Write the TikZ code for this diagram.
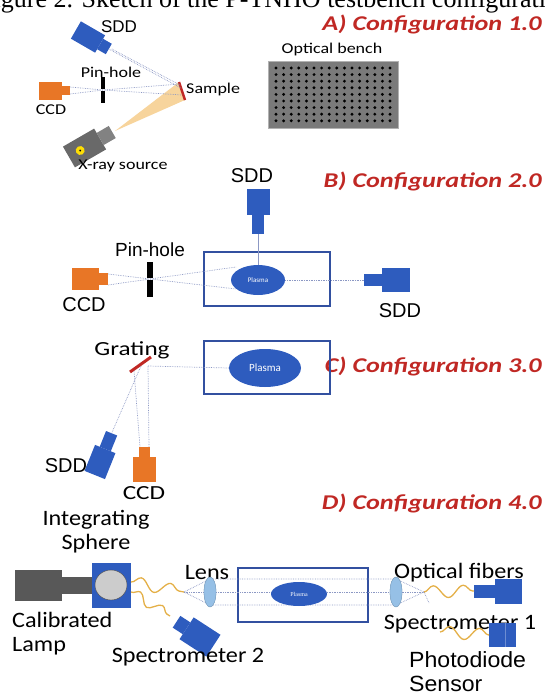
\documentclass[tikz,border=0pt]{standalone}
\usepackage{fontspec}
\setmainfont{Carlito}
\newfontfamily\arialfont{Liberation Sans}
\newfontfamily\capfont{Liberation Serif}
\usepackage{tikz}
\usetikzlibrary{shapes.geometric}
\usetikzlibrary{decorations.pathmorphing}

\definecolor{cfgred}{RGB}{192,40,36}
\definecolor{sddblue}{RGB}{46,92,190}
\definecolor{boxblue}{RGB}{50,80,160}
\definecolor{ccdorange}{RGB}{232,118,38}
\definecolor{raygray}{RGB}{140,152,196}
\definecolor{fibergold}{RGB}{228,176,72}
\definecolor{lensblue}{RGB}{150,192,230}
\definecolor{lampgray}{RGB}{88,88,88}
\definecolor{benchgray}{RGB}{122,122,122}
\definecolor{beam}{RGB}{247,212,156}

\begin{document}
\begin{tikzpicture}[x=1pt,y=-1pt,
    cfg/.style={font=\fontsize{21}{24}\bfseries\itshape\selectfont, text=cfgred, anchor=east, inner sep=0pt, xscale=1.25},
    lbl/.style={font=\fontsize{15}{18}\selectfont, inner sep=0pt, xscale=1.2},
    lblbig/.style={font=\fontsize{22}{24}\selectfont, inner sep=0pt, xscale=1.1},
    albl/.style={font=\fontsize{20}{24}\arialfont\selectfont, inner sep=0pt},
    sdd/.style={fill=sddblue},
    ccd/.style={fill=ccdorange},
    ray/.style={raygray, densely dotted, line width=0.7pt},
    chamber/.style={draw=boxblue, line width=1.4pt},
    plasma/.style={ellipse, fill=sddblue, text=white, inner sep=0pt},
    fiber/.style={fibergold, line width=1.3pt, decorate, decoration={snake, amplitude=6pt, segment length=30pt}},
    lens/.style={ellipse, fill=lensblue, draw=lensblue!80!black, line width=0.3pt, minimum width=12pt, minimum height=30pt, inner sep=0pt}]
\path[use as bounding box, clip] (0,0) rectangle (545,696);

% caption, cut at the top edge
\node[font=\fontsize{26}{28}\capfont\selectfont, anchor=base west, inner sep=0pt] (caption) at (-21,7) {Figure 2. Sketch of the P-TNHO testbench configurations};

%%% A) Configuration 1.0
\node[cfg] (titleA) at (542,24) {A) Configuration 1.0};
\fill[beam] (115,131) -- (179,82) -- (185,100) -- cycle;
\begin{scope}[shift={(88,37)},rotate=-30]
  \fill[sdd] (-14,-10) rectangle (14,10);
  \fill[sdd] (14,-6) rectangle (24,6);
  \coordinate (sddA tip) at (24,0);
\end{scope}
\node[albl, font=\fontsize{17}{20}\arialfont\selectfont] (sddA) at (119,27) {SDD};
\fill[ccd] (39,82) rectangle (62,100);
\fill[ccd] (62,86) rectangle (70,95);
\coordinate (ccdA top) at (70,87);
\coordinate (ccdA bot) at (70,94);
\fill[black] (101,77) rectangle (105,89);
\fill[black] (101,91) rectangle (105,103);
\coordinate (pinA) at (103,90);
\node[lbl] (pinholeA) at (111,72) {Pin-hole};
\node[lbl] (ccdAlbl) at (51,110) {CCD};
\draw[cfgred, line width=2.5pt] (179,82) -- (185,100);
\coordinate (sampleA) at (181,88);
\node[lbl, anchor=west] (sample) at (186,89) {Sample};
\draw[ray] (sddA tip) -- (sampleA);
\draw[ray] ([xshift=3]sddA tip) -- (180,85);
\draw[ray] (ccdA top) -- (pinA) -- (182,95);
\draw[ray] (ccdA bot) -- (pinA) -- (180,84);
\begin{scope}[shift={(88,146)},rotate=30]
  \fill[lampgray!90] (-22,-12) rectangle (14,12);
  \fill[lampgray!75] (14,-7) rectangle (28,7);
  \fill[yellow!80!orange] (-9,0) circle (4.5);
  \fill[black] (-9,0) circle (1.1);
\end{scope}
\node[lbl] (xray) at (123,166) {X-ray source};
\node[lbl] (benchlbl) at (332,50) {Optical bench};
\draw[fill=benchgray, draw=gray!60] (268,61) rectangle (398,128);
\foreach \i in {0,...,15}
  \foreach \j in {0,...,8}
    \fill[black] (276+\i*7.6,68+\j*6.6) circle (1.6);

%%% B) Configuration 2.0
\node[cfg] (titleB) at (542,181) {B) Configuration 2.0};
\draw[chamber] (204,252) rectangle (330,306);
\node[plasma, minimum width=54pt, minimum height=30pt, font=\fontsize{7}{8}\selectfont] (plasmaB) at (258,280) {Plasma};
\fill[sdd] (247,189) rectangle (270,215);
\fill[sdd] (252,215) rectangle (264,234);
\coordinate (sddB tip) at (258,234);
\node[albl] (sddBtop) at (252,176) {SDD};
\fill[sdd] (382,268) rectangle (410,292);
\fill[sdd] (364,274) rectangle (382,286);
\coordinate (sddB side) at (364,280);
\node[albl] (sddBright) at (400,311) {SDD};
\fill[ccd] (72,268) rectangle (99,290);
\fill[ccd] (99,273) rectangle (108,285);
\coordinate (ccdB top) at (108,274);
\coordinate (ccdB bot) at (108,285);
\node[albl] (ccdB) at (84,305) {CCD};
\fill[black] (147,262) rectangle (153,278);
\fill[black] (147,280) rectangle (153,297);
\coordinate (pinB) at (150,279);
\node[albl, font=\fontsize{19}{22}\arialfont\selectfont] (pinholeB) at (150,250) {Pin-hole};
\draw[raygray, line width=0.6pt] (sddB tip) -- (plasmaB.north);
\draw[ray] (ccdB top) -- (pinB) -- (236,289);
\draw[ray] (ccdB bot) -- (pinB) -- (236,267);
\draw[ray] (plasmaB.east) -- (sddB side);

%%% C) Configuration 3.0
\node[cfg] (titleC) at (542,366) {C) Configuration 3.0};
\draw[chamber] (204,341) rectangle (330,394);
\node[plasma, minimum width=72pt, minimum height=38pt, font=\fontsize{11}{12}\selectfont] (plasmaC) at (265,368) {Plasma};
\draw[cfgred, line width=3pt] (130,372) -- (151,357);
\coordinate (gratC) at (148,366);
\node[lbl, font=\fontsize{20}{24}\selectfont, xscale=1.05] (grating) at (132,350) {Grating};
\fill[ccd] (133,457) rectangle (156,482);
\fill[ccd] (139,447) rectangle (150,457);
\node[lbl, font=\fontsize{20}{24}\selectfont, xscale=1.05] (ccdC) at (144,493) {CCD};
\begin{scope}[shift={(100,462)},rotate=68]
  \fill[sdd] (-14,-11) rectangle (14,11);
  \fill[sdd] (14,-6) rectangle (31,6);
  \coordinate (sddC tip) at (31,0);
\end{scope}
\node[albl] (sddC) at (66,466) {SDD};
\draw[ray] (plasmaC.west) -- (gratC);
\draw[ray] (gratC) -- (149,447);
\draw[ray] (134,371) -- (140,447);
\draw[ray] (141,366) -- (sddC tip);

%%% D) Configuration 4.0
\node[cfg] (titleD) at (542,503) {D) Configuration 4.0};
\node[lblbig, align=center] (sphere) at (96,532) {Integrating\\Sphere};
\fill[lampgray] (15,570) rectangle (62,601);
\fill[lampgray] (62,577) rectangle (92,594);
\fill[sdd] (92,563) rectangle (131,608);
\draw[fill=gray!40, draw=gray!60!black, line width=0.4pt] (111,585) ellipse [x radius=16, y radius=15];
\node[lblbig, align=left, anchor=north west] (lamp) at (12,612) {Calibrated\\Lamp};
\node[lblbig] (lenslbl) at (207,573) {Lens};
\node[lens] (lensL) at (210,592) {};
\node[lens] (lensR) at (396,592) {};
\coordinate (focL) at (184,592);
\coordinate (focR) at (424,592);
\draw[chamber] (238,568) rectangle (368,622);
\foreach \dy in {-13,0,13} {
  \draw[ray] (focL) -- (210,592+\dy) -- (396,592+\dy) -- (focR);
}
\draw[ray] (focR) -- (429,603);
\node[plasma, minimum width=56pt, minimum height=24pt, font=\fontsize{6}{7}\capfont\selectfont] (plasmaD) at (299,594) {Plasma};
\node[lens] at (lensL) {};
\node[lens] at (lensR) {};
\coordinate (sphere out) at (131,582);
\coordinate (spec2 in) at (170,616);
\draw[fiber] (sphere out) -- (focL);
\draw[fiber, decoration={snake, amplitude=5pt, segment length=26pt}] (131,592) -- (spec2 in);
\begin{scope}[shift={(200,637)},rotate=147]
  \fill[sdd] (-16,-13) rectangle (16,13);
  \fill[sdd] (16,-7) rectangle (28,7);
  \coordinate (spec2 tip) at (28,0);
\end{scope}
\node[lblbig] (spec2) at (188,657) {Spectrometer 2};
\node[lblbig] (fibers) at (459,573) {Optical fibers};
\fill[sdd] (495,579) rectangle (522,604);
\fill[sdd] (474,585) rectangle (495,598);
\coordinate (spec1 tip) at (474,591);
\draw[fiber] (focR) -- (spec1 tip);
\node[lblbig] (spec1) at (460,624) {Spectrometer 1};
\fill[sdd] (489,623) rectangle (516,647);
\draw[sddblue!70!white, line width=0.5pt] (505,623) -- (505,647);
\coordinate (diode) at (489,635);
\draw[fiber] (440,632) -- (diode);
\node[albl, font=\fontsize{22}{24}\arialfont\selectfont, align=left, anchor=base west, xscale=1.05] (photodiode) at (409,691) {Photodiode\\Sensor};
\end{tikzpicture}
\end{document}
